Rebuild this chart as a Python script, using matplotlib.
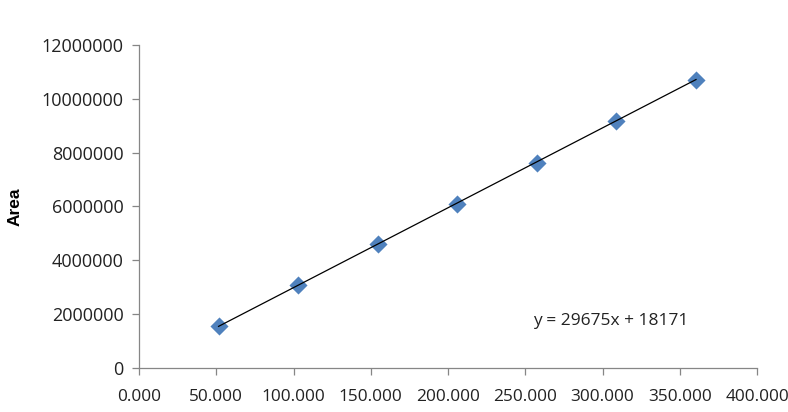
import matplotlib
matplotlib.use("Agg")
import matplotlib.pyplot as plt
import numpy as np

conc = [51.5, 103.0, 154.5, 206.0, 257.5, 309.0, 360.5]
area = [1550000, 3070000, 4600000, 6100000, 7600000, 9160000, 10700000]
slope, intercept = 29675, 18171
xticks = [0, 50, 100, 150, 200, 250, 300, 350, 400]
yticks = [0, 2000000, 4000000, 6000000, 8000000, 10000000, 12000000]

fig = plt.figure(figsize=(7.88, 4.12), dpi=100)
ax = fig.add_axes([0.1764, 0.1068, 0.7843, 0.784])
gray = "#868686"
ax.scatter(conc, area, marker="D", s=85, color="#4F81BD", zorder=3, linewidths=0)
xl = np.array([conc[0], conc[-1]])
ax.plot(xl, slope * xl + intercept, color="black", lw=0.9, zorder=4)
ax.set_xlim(0, 400)
ax.set_ylim(0, 12000000)
ax.set_xticks(xticks)
ax.set_xticklabels([f"{v:.3f}" for v in xticks])
ax.set_yticks(yticks)
ax.set_yticklabels([str(v) for v in yticks])
for s in ["top", "right"]:
    ax.spines[s].set_visible(False)
for s in ["left", "bottom"]:
    ax.spines[s].set_color(gray)
    ax.spines[s].set_linewidth(0.9)
ax.tick_params(axis="both", direction="out", length=5, color=gray, width=0.9,
               labelsize=13, labelcolor="#222222")
ax.tick_params(axis="x", pad=10, labelsize=12.4)
ax.tick_params(axis="y", pad=6)
for lab in ax.get_xticklabels() + ax.get_yticklabels():
    lab.set_family("Open Sans")
ax.set_ylabel("Area", fontsize=12.5, fontweight="bold", family="Liberation Sans", labelpad=14)
ax.text(255, 1750000, f"y = {slope}x + {intercept}", fontsize=12.5, family="Open Sans",
        color="#222222", va="center")
fig.savefig("out.png", dpi=100)
